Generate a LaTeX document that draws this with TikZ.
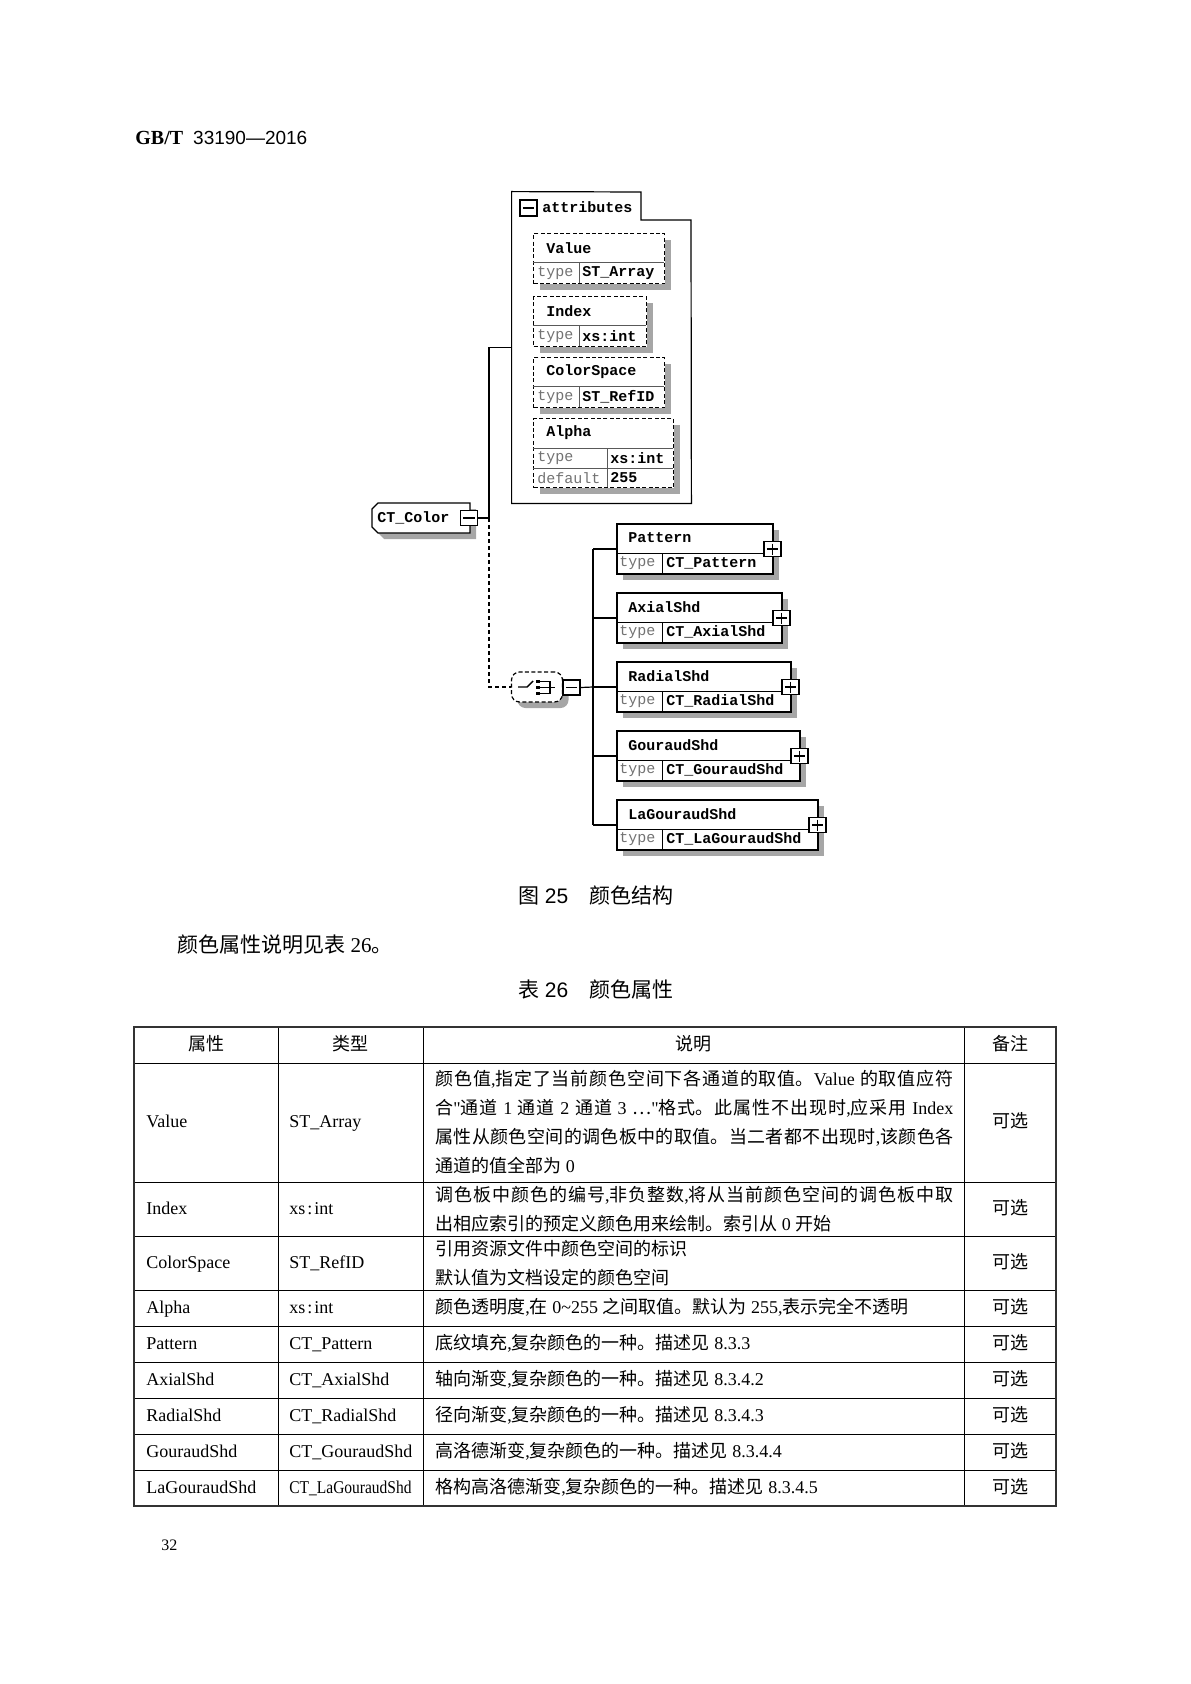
\documentclass[tikz,border=0pt]{standalone}
\usepackage{fontspec}
\setmainfont{Liberation Serif}
\setsansfont{Liberation Sans}
\setmonofont{Liberation Mono}
\newfontfamily\zhfont{Noto Sans CJK SC}
\newfontfamily\rawserif{Liberation Serif}[Ligatures=TeXOff]
\usetikzlibrary{shadows}

% CJK characters switch to \zhfont by themselves
\XeTeXinterchartokenstate=1
\newXeTeXintercharclass\zhclass
\count255="4E00
\loop\XeTeXcharclass\count255=\zhclass
  \ifnum\count255<"9FFF\advance\count255 by 1\repeat
\count255="3000
\loop\XeTeXcharclass\count255=\zhclass
  \ifnum\count255<"303F\advance\count255 by 1\repeat
\count255="FF01
\loop\XeTeXcharclass\count255=\zhclass
  \ifnum\count255<"FF5E\advance\count255 by 1\repeat
\XeTeXcharclass"22EF=\zhclass
\XeTeXinterchartoks 0 \zhclass={\begingroup\zhfont}
\XeTeXinterchartoks 4095 \zhclass={\begingroup\zhfont}
\XeTeXinterchartoks \zhclass 0={\endgroup}
\XeTeXinterchartoks \zhclass 4095={\endgroup}
\XeTeXlinebreaklocale "zh"
\XeTeXlinebreakskip=0pt plus 1pt

\begin{document}
\begin{tikzpicture}[x=0.5pt, y=-0.5pt,
  every node/.style={inner sep=0pt},
  xsd/.style={font=\ttfamily\bfseries\fontsize{7.5}{9}\selectfont},
  xskey/.style={font=\ttfamily\fontsize{7.5}{9}\selectfont, text=black!55},
  boxshadow/.style={general shadow={fill=black!35, shadow xshift=3pt, shadow yshift=-3pt}},
  elembox/.style={draw, fill=white, line width=1pt, anchor=north west,
                  minimum height=25pt, boxshadow},
  attrbox/.style={draw, fill=white, line width=0.6pt, dash pattern=on 2pt off 1.2pt,
                  anchor=north west, boxshadow},
  sepline/.style={line width=0.5pt},
  attrsep/.style={line width=0.5pt, draw=black!65},
  conn/.style={line width=0.6pt},
  dconn/.style={conn, dash pattern=on 2pt off 1.5pt},
  minusbox/.style={draw, fill=white, line width=0.8pt, minimum width=8.5pt,
                   minimum height=7.5pt,
                   path picture={\draw[line width=0.7pt]
                     ([xshift=1.4pt]path picture bounding box.west) --
                     ([xshift=-1.4pt]path picture bounding box.east);}},
  plusbox/.style={minusbox,
                  append after command={[line width=0.7pt]
                     ([yshift=-1.4pt]\tikzlastnode.north) edge
                     ([yshift=1.4pt]\tikzlastnode.south)}},
  cell/.style={font=\fontsize{9}{14.4}\selectfont, text height=7pt, text depth=2pt},
  desc/.style={font=\fontsize{9}{14.4}\selectfont, anchor=west, text width=259pt},
  tabrule/.style={line width=0.5pt},
  tabframe/.style={line width=1pt, draw=black!80},
]
\useasboundingbox (0,0) rectangle (1190,1684);

% ── Page head ──────────────────────────────────────────────────────────
\node[anchor=base west] (stdno) at (135,145)
  {\fontsize{10}{12}\selectfont\bfseries GB/T\hspace{5pt}\sffamily\mdseries\fontsize{9.5}{12}\selectfont 33190—2016};

% ── Root element CT_Color ──────────────────────────────────────────────
\draw[line width=0.6pt, fill=white, boxshadow]
  (378,503) -- (470,503) -- (470,533) -- (378,533) -- (372,527) -- (372,509) -- cycle;
\node[xsd, anchor=west] (ctcolor) at (377,518) {CT\_Color};
\node[minusbox] (ctm) at (469,518) {};
\coordinate (ctj) at (489,518);

% ── Attribute group ────────────────────────────────────────────────────
\node[minimum width=89.5pt, minimum height=155.5pt] (attrs) at (601.5,347.5) {};
\draw[line width=0.6pt] (attrs.south west) -- (attrs.north west) -- (641,192)
  -- (641,220) -- (691,220) -- (attrs.south east) -- cycle;
\node[minusbox, minimum height=8pt] (atm) at (528.5,208) {};
\node[xsd, anchor=west] (atlbl) at (542,207) {attributes};

\foreach \nm/\lbl/\typ/\yt/\bw in {aval/Value/ST\_Array/233/131,
    aidx/Index/xs:int/296/113, acs/ColorSpace/ST\_RefID/357/131}{
  \node[attrbox, minimum width=\bw*0.5pt, minimum height=25pt] (\nm) at (533,\yt) {};
  \draw[attrsep] (533,\yt+30) -- +(\bw,0);
  \draw[attrsep] (579,\yt+30) -- (579,\yt+50);
  \node[xsd, anchor=west] (\nm-name) at (546,\yt+15) {\lbl};
  \node[xskey, anchor=west] (\nm-key) at (537,\yt+40) {type};
  \node[xsd, anchor=west] (\nm-val) at (582,\yt+40) {\typ};
}

\node[attrbox, minimum width=70pt, minimum height=34.5pt] (aalpha) at (533,418) {};
\draw[attrsep] (533,448) -- (673,448);
\draw[attrsep] (533,468) -- (673,468);
\draw[attrsep] (607,448) -- (607,487);
\node[xsd, anchor=west] (aalpha-name) at (546,433) {Alpha};
\node[xskey, anchor=west] (aalpha-key) at (537,458) {type};
\node[xsd, anchor=west] (aalpha-val) at (610,458) {xs:int};
\node[xskey, anchor=west] (aalpha-dkey) at (537,478) {default};
\node[xsd, anchor=west] (aalpha-dval) at (610,478) {255};

% ── Choice compositor ──────────────────────────────────────────────────
\node[draw, fill=white, line width=0.6pt, dash pattern=on 2pt off 1.2pt,
      rounded corners=4pt, minimum width=25.5pt, minimum height=15pt, boxshadow]
  (choice) at (537,687) {};
\draw[line width=0.7pt] (518,687) -- (527,687) -- (533,681);
\fill (536,680) rectangle (540,683);
\fill (536,686) rectangle (540,689);
\fill (536,692) rectangle (540,695);
\draw[line width=0.6pt] (540,681.5) -- (550,681.5) -- (550,693.5) -- (540,693.5);
\draw[line width=0.6pt] (540,687.5) -- (555,687.5);
\node[minusbox] (chm) at (571.5,687.5) {};
\coordinate (bus) at (593,687);

% ── Child elements ─────────────────────────────────────────────────────
\foreach \lbl/\typ/\bw [count=\i from 0] in {Pattern/CT\_Pattern/156,
    AxialShd/CT\_AxialShd/165, RadialShd/CT\_RadialShd/174,
    GouraudShd/CT\_GouraudShd/183, LaGouraudShd/CT\_LaGouraudShd/201}{
  \pgfmathsetmacro\yt{523+69*\i}
  \node[elembox, minimum width=\bw*0.5pt] (e\i) at (616,\yt) {};
  \draw[sepline] (616,\yt+30) -- +(\bw,0);
  \draw[sepline] (662,\yt+30) -- (662,\yt+50);
  \node[xsd, anchor=west] (e\i-name) at (628,\yt+15) {\lbl};
  \node[xskey, anchor=west] (e\i-key) at (619,\yt+40) {type};
  \node[xsd, anchor=west] (e\i-val) at (666,\yt+40) {\typ};
  \node[plusbox] (e\i-plus) at (616+\bw+0.5,\yt+26) {};
}

% ── Connectors ─────────────────────────────────────────────────────────
\draw[conn] (ctm.east) -- (ctj);
\draw[conn] (ctj) |- (attrs.west);
\draw[dconn] (ctj) |- (choice.west);
\draw[conn] (chm.east) -- (bus);
\draw[conn] (bus |- e0.west) -- (bus |- e4.west);
\foreach \i in {0,...,4}
  \draw[conn] (bus |- e\i.west) -- (e\i.west);

% ── Captions ───────────────────────────────────────────────────────────
\node (figcap) at (596,896) {\fontsize{10.5}{12}\selectfont 图 {\sffamily 25}\quad 颜色结构};
\node[anchor=west] (refnote) at (177,945) {\fontsize{10.5}{12}\selectfont 颜色属性说明见表 26。};
\node (tabcap) at (596,990) {\fontsize{10.5}{12}\selectfont 表 {\sffamily 26}\quad 颜色属性};

% ── Table 26 ───────────────────────────────────────────────────────────
\foreach \ry in {1063,1182,1236,1290,1326,1362,1398,1434,1470}
  \draw[tabrule] (134,\ry) -- (1056,\ry);
\foreach \cx in {278,423,964}
  \draw[tabrule] (\cx,1027) -- (\cx,1506);
\draw[tabframe] (134,1027) rectangle (1056,1506);

\node[cell] (h1) at (206,1045) {属性};
\node[cell] (h2) at (350.5,1045) {类型};
\node[cell] (h3) at (693.5,1045) {说明};
\node[cell] (h4) at (1010,1045) {备注};

\node[cell, anchor=west] (r0a) at (146,1122) {Value};
\node[cell, anchor=west] (r0b) at (289,1122) {ST\_Array};
\node[desc, align=justify] (r0c) at (435,1122)
  {颜色值,指定了当前颜色空间下各通道的取值。Value 的取值应符\linebreak
   合{\rawserif"}通道 1 通道 2 通道 3 ⋯{\rawserif"}格式。此属性不出现时,应采用 Index\linebreak
   属性从颜色空间的调色板中的取值。当二者都不出现时,该颜色各\linebreak
   通道的值全部为 0};
\node[cell] (r0d) at (1010,1122) {可选};

\node[cell, anchor=west] (r1a) at (146,1209) {Index};
\node[cell, anchor=west] (r1b) at (289,1209) {xs\kern1pt:\kern1pt int};
\node[desc, align=justify] (r1c) at (435,1209)
  {调色板中颜色的编号,非负整数,将从当前颜色空间的调色板中取\linebreak
   出相应索引的预定义颜色用来绘制。索引从 0 开始};
\node[cell] (r1d) at (1010,1209) {可选};

\node[cell, anchor=west] (r2a) at (146,1263) {ColorSpace};
\node[cell, anchor=west] (r2b) at (289,1263) {ST\_RefID};
\node[desc, align=left] (r2c) at (435,1263)
  {引用资源文件中颜色空间的标识\\默认值为文档设定的颜色空间};
\node[cell] (r2d) at (1010,1263) {可选};

\foreach \nm/\typ/\dsc [count=\r from 3] in {
    Alpha/{xs\kern1pt:\kern1pt int}/{颜色透明度,在 0\textasciitilde 255 之间取值。默认为 255,表示完全不透明},
    Pattern/CT\_Pattern/{底纹填充,复杂颜色的一种。描述见 8.3.3},
    AxialShd/CT\_AxialShd/{轴向渐变,复杂颜色的一种。描述见 8.3.4.2},
    RadialShd/CT\_RadialShd/{径向渐变,复杂颜色的一种。描述见 8.3.4.3},
    GouraudShd/CT\_GouraudShd/{高洛德渐变,复杂颜色的一种。描述见 8.3.4.4},
    LaGouraudShd/{\scalebox{0.86}[1]{CT\_LaGouraudShd}}/{格构高洛德渐变,复杂颜色的一种。描述见 8.3.4.5}}{
  \pgfmathsetmacro\yc{1308+36*(\r-3)}
  \node[cell, anchor=west] (r\r a) at (146,\yc) {\nm};
  \node[cell, anchor=west] (r\r b) at (289,\yc) {\typ};
  \node[cell, anchor=west] (r\r c) at (435,\yc) {\dsc};
  \node[cell] (r\r d) at (1010,\yc) {可选};
}

% ── Page number ────────────────────────────────────────────────────────
\node[anchor=west] (pagenum) at (161,1545) {\fontsize{8}{9}\selectfont 32};

\end{tikzpicture}
\end{document}
